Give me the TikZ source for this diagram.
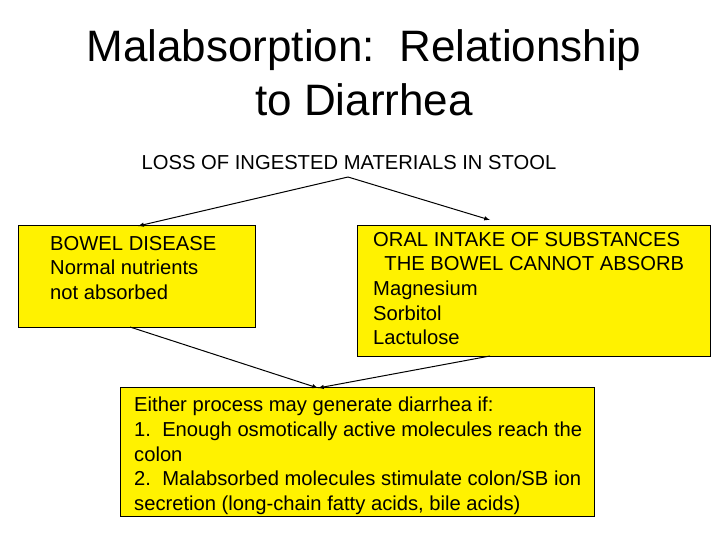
\documentclass[tikz,border=0pt]{standalone}
\usepackage{fontspec}
\setmainfont{Liberation Sans}
\begin{document}
\begin{tikzpicture}[x=1pt,y=-1pt,
  box/.style={draw=black,line width=0.6pt,fill=yellow},
  txt/.style={anchor=north west,align=left,inner sep=0pt,font=\fontsize{20.2}{24.6}\selectfont},
  arr/.style={-latex,line width=1pt}]
\useasboundingbox (0,0) rectangle (728,546);
\node (t1) at (364,50) {\fontsize{44}{48}\selectfont Malabsorption:\ \ Relationship};
\node (t2) at (364,100) {\fontsize{44}{48}\selectfont to Diarrhea};
\node (loss) at (349,163) {\fontsize{20.2}{22}\selectfont LOSS OF INGESTED MATERIALS IN STOOL};
\coordinate (ls) at (348,177);
\draw[box] (18,225) rectangle (255,327);
\coordinate (lt) at (138,226); \coordinate (lb) at (130,327);
\node[txt] (ltext) at (50,236) {BOWEL DISEASE\\Normal nutrients\\not absorbed};
\draw[box] (357,225) rectangle (710,356);
\coordinate (rt) at (490,220); \coordinate (rb) at (490,356);
\node[txt] (rtext) at (373,232) {ORAL INTAKE OF SUBSTANCES\\\ \ THE BOWEL CANNOT ABSORB\\Magnesium\\Sorbitol\\Lactulose};
\draw[box] (120,387) rectangle (594,516);
\coordinate (bt) at (318,388);
\node[txt] (btext) at (134,397) {Either process may generate diarrhea if:\\1.\ \ Enough osmotically active molecules reach the\\colon\\2.\ \ Malabsorbed molecules stimulate colon/SB ion\\secretion (long-chain fatty acids, bile acids)};
\draw[arr] (ls) -- (lt);
\draw[arr] (ls) -- (rt);
\draw[arr] (lb) -- (bt);
\draw[arr] (rb) -- (bt);
\end{tikzpicture}
\end{document}
